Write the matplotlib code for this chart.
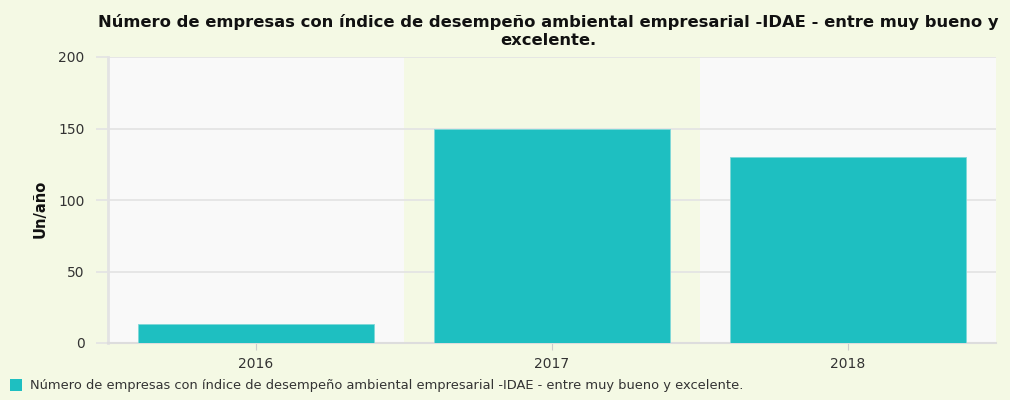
import matplotlib; matplotlib.use("Agg")
import matplotlib.pyplot as plt
from matplotlib.patches import Rectangle

plt.rcParams["font.family"] = ["DejaVu Sans"]

years = ["2016", "2017", "2018"]
empresas = [13, 150, 130]
yticks = [0, 50, 100, 150, 200]
title = ("Número de empresas con índice de desempeño ambiental empresarial -IDAE - entre muy bueno y\n"
         "excelente.")
series_label = "Número de empresas con índice de desempeño ambiental empresarial -IDAE - entre muy bueno y excelente."

bg = "#f4f9e4"
band = "#f9f9f9"
teal = "#1ebfc1"
grid = "#e3e3e3"

W, H = 1010, 400
fig = plt.figure(figsize=(W/100, H/100), dpi=100, facecolor=bg)
ax = fig.add_axes([108/W, (H-343)/H, (996-108)/W, (343-57)/H])
ax.set_facecolor(bg)

x = list(range(len(years)))
for i in x:
    if i % 2 == 0:
        ax.axvspan(i-0.5, i+0.5, color=band, zorder=0, lw=0)
ax.bar(x, empresas, width=0.8, color=teal, edgecolor="#7fd8d8", lw=0.6, zorder=3)

ax.set_xlim(-0.5, 2.5)
ax.set_ylim(0, 200)
ax.set_yticks(yticks)
ax.set_xticks(x)
ax.set_xticklabels(years)
ax.grid(axis="y", color=grid, lw=1.2, zorder=1)
ax.tick_params(axis="y", length=9, color=grid, width=1.2, labelsize=10,
               labelcolor="#333333", pad=8)
ax.tick_params(axis="x", length=5, color="#cccccc", labelsize=10,
               labelcolor="#333333", pad=5)
for sp in ["top", "right"]:
    ax.spines[sp].set_visible(False)
ax.spines["left"].set_color(grid)
ax.spines["left"].set_linewidth(2)
ax.spines["bottom"].set_color("#dddddd")
ax.spines["bottom"].set_linewidth(1.5)
ax.set_ylabel("Un/año", fontsize=10.5, weight="bold", color="#111111")
ax.yaxis.set_label_coords((40-108)/(996-108), (343-209)/(343-57))
ax.yaxis.label.set_va("center")

fig.text(548/W, 1-31/H, title, ha="center", va="center", fontsize=11.8,
         weight="bold", color="#111111", linespacing=1.2)

fig.patches.append(Rectangle((10/W, 1-391/H), 12/W, 12/H, transform=fig.transFigure,
                             facecolor=teal, edgecolor="none"))
fig.text(30/W, 1-385/H, series_label, ha="left", va="center", fontsize=9.4, color="#333333")

fig.savefig("out.png", dpi=100, facecolor=bg)
